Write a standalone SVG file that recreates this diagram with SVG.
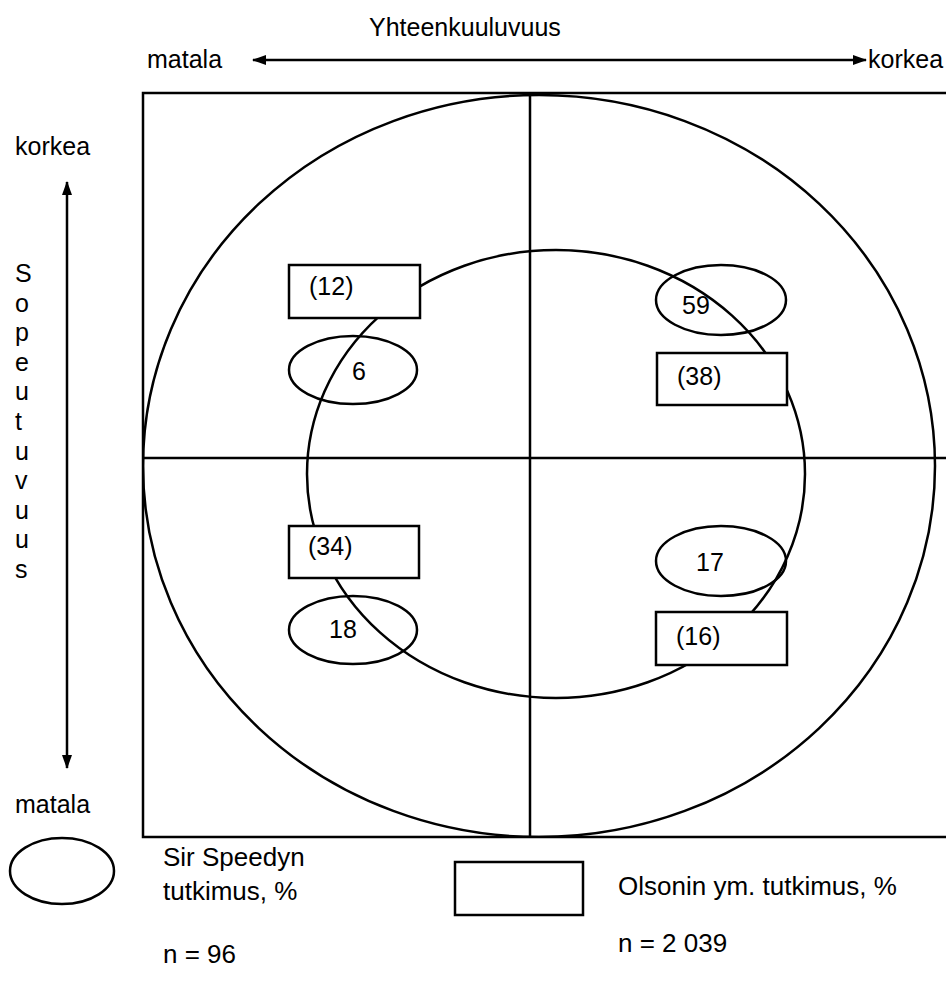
<svg xmlns="http://www.w3.org/2000/svg" width="946" height="992" viewBox="0 0 946 992">
  <style>
    text { font-family: "Liberation Sans", Arial, sans-serif; font-size: 25px; fill: #000; }
    .lg { font-size: 26px; }
    .ln { stroke: #000; fill: none; stroke-width: 2.5; }
    .box { stroke: #000; fill: #fff; stroke-width: 2.5; }
    .ell { stroke: #000; fill: none; stroke-width: 2.5; }
    .mid { text-anchor: middle; }
  </style>
  <defs>
    <marker id="ah" viewBox="0 0 14 10" refX="13" refY="5" markerWidth="14" markerHeight="10" markerUnits="userSpaceOnUse" orient="auto-start-reverse">
      <path d="M0,0 L14,5 L0,10 z" fill="#000"/>
    </marker>
    <clipPath id="fc"><rect x="143" y="93" width="810" height="744"/></clipPath>
  </defs>
  <rect width="946" height="992" fill="#fff"/>

  <g id="frame">
    <path class="ln" d="M948,93 H143 V837 H948"/>
    <line class="ln" x1="530" y1="93" x2="530" y2="837"/>
    <line class="ln" x1="143" y1="458" x2="948" y2="458"/>
    <ellipse class="ln" clip-path="url(#fc)" cx="539" cy="466" rx="396" ry="371"/>
    <ellipse class="ln" cx="556" cy="474" rx="249" ry="224"/>
  </g>

  <g id="connectors">
    <line class="ln" x1="253" y1="60" x2="866" y2="60" marker-start="url(#ah)" marker-end="url(#ah)"/>
    <line class="ln" stroke-width="2" x1="67" y1="182" x2="67" y2="768" marker-start="url(#ah)" marker-end="url(#ah)"/>
  </g>

  <g id="axis-labels">
    <text x="369" y="36">Yhteenkuuluvuus</text>
    <text x="147" y="68">matala</text>
    <text x="868" y="68">korkea</text>
    <text x="15" y="155">korkea</text>
    <text x="15" y="813">matala</text>
    <text x="15" y="282">S</text>
    <text x="15" y="312">o</text>
    <text x="15" y="341">p</text>
    <text x="15" y="371">e</text>
    <text x="15" y="400">u</text>
    <text x="15" y="430">t</text>
    <text x="15" y="460">u</text>
    <text x="15" y="489">v</text>
    <text x="15" y="519">u</text>
    <text x="15" y="548">u</text>
    <text x="15" y="578">s</text>
  </g>

  <g id="box-12"><rect class="box" x="289" y="265" width="131" height="53"/><text x="309" y="295">(12)</text></g>
  <g id="ell-6"><ellipse class="ell" cx="353" cy="370" rx="64" ry="34"/><text class="mid" x="359" y="380">6</text></g>
  <g id="ell-59"><ellipse class="ell" cx="721" cy="300" rx="65" ry="35"/><text x="682" y="314">59</text></g>
  <g id="box-38"><rect class="box" x="657" y="353" width="130" height="52"/><text x="677" y="385">(38)</text></g>
  <g id="box-34"><rect class="box" x="289" y="526" width="130" height="52"/><text x="308" y="555">(34)</text></g>
  <g id="ell-18"><ellipse class="ell" cx="353" cy="630" rx="64" ry="34"/><text class="mid" x="343" y="638">18</text></g>
  <g id="ell-17"><ellipse class="ell" cx="721" cy="561" rx="65" ry="35"/><text class="mid" x="710" y="571">17</text></g>
  <g id="box-16"><rect class="box" x="656" y="612" width="131" height="53"/><text x="676" y="645">(16)</text></g>

  <g id="legend-ellipse">
    <ellipse class="ell" cx="62" cy="871" rx="52" ry="33"/>
    <text class="lg" x="163" y="866">Sir Speedyn</text>
    <text class="lg" x="163" y="900">tutkimus, %</text>
    <text class="lg" x="163" y="963">n = 96</text>
  </g>
  <g id="legend-rect">
    <rect class="box" x="455" y="862" width="128" height="53"/>
    <text class="lg" x="618" y="895">Olsonin ym. tutkimus, %</text>
    <text class="lg" x="618" y="952">n = 2 039</text>
  </g>
</svg>
